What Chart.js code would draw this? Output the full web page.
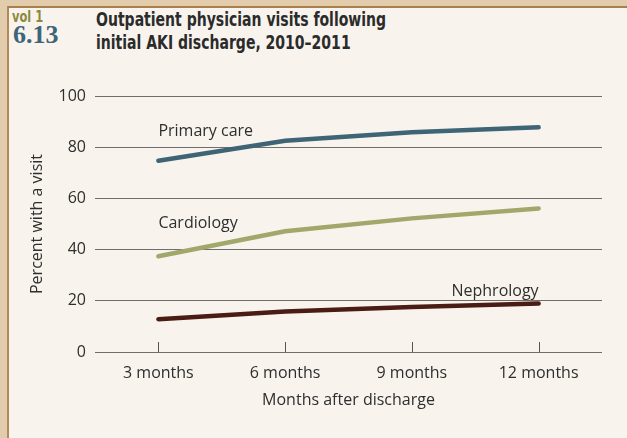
<!DOCTYPE html>
<html>
<head>
<meta charset="utf-8">
<script src="https://cdn.jsdelivr.net/npm/chart.js@4.4.1/dist/chart.umd.min.js"></script>
<style>
  html, body { margin: 0; padding: 0; }
  body { width: 627px; height: 438px; background: #e2ccac; position: relative; overflow: hidden; }
  #panel {
    position: absolute; left: 7px; top: 6px; width: 640px; height: 450px;
    background: #f8f4ed; border-left: 2px solid #b08a58; border-top: 2px solid #a8804e;
  }
  #vol { position: absolute; left: 12px; top: 8px; font: bold 15px "DejaVu Sans Condensed", sans-serif; color: #8c8a3e; transform: scaleX(0.85); transform-origin: left top; }
  #num { position: absolute; left: 13px; top: 20px; font: bold 26px "Liberation Serif", "DejaVu Serif", serif; color: #3f6478; }
  #title { position: absolute; left: 96px; top: 8px; font: bold 19px/23px "DejaVu Sans Condensed", sans-serif; color: #2b2b2b; transform: scaleX(0.82); transform-origin: left top; white-space: nowrap; }
  canvas { position: absolute; left: 0; top: 0; }
</style>
</head>
<body>
<div id="panel"></div>
<div id="vol">vol 1</div>
<div id="num">6.13</div>
<div id="title">Outpatient physician visits following<br>initial AKI discharge, 2010–2011</div>
<canvas id="c" width="627" height="438"></canvas>
<script>
// ========================
// Data
// ========================
const categories = ["3 months", "6 months", "9 months", "12 months"];
const primaryCare = [74.7, 82.5, 85.8, 87.8];
const cardiology = [37.4, 47.2, 52.2, 56.1];
const nephrology = [12.8, 15.8, 17.6, 18.9];
const yTicks = [0, 20, 40, 60, 80, 100];

// label: [text, category index, value, align]
const seriesLabels = [
  ["Primary care", 0, 84.5, "left"],
  ["Cardiology", 0, 48.5, "left"],
  ["Nephrology", 3, 22, "right"]
];

const font = "'Open Sans', 'Noto Sans', sans-serif";
const textColor = "#2e2e2e";

// tick marks on x axis + line labels
const extras = {
  id: "extras",
  afterDatasetsDraw(chart) {
    const { ctx, scales: { x, y } } = chart;
    ctx.save();
    ctx.strokeStyle = "#555";
    ctx.lineWidth = 1;
    categories.forEach((c, i) => {
      const px = Math.round(x.getPixelForValue(i)) + 0.5;
      ctx.beginPath();
      ctx.moveTo(px, y.getPixelForValue(0));
      ctx.lineTo(px, y.getPixelForValue(0) - 10);
      ctx.stroke();
    });
    ctx.fillStyle = textColor;
    ctx.font = "16px " + font;
    ctx.textBaseline = "alphabetic";
    seriesLabels.forEach(([t, i, v, a]) => {
      ctx.textAlign = a;
      ctx.fillText(t, x.getPixelForValue(i), y.getPixelForValue(v));
    });
    ctx.restore();
  }
};

const lineDs = (label, data, color) => ({
  label, data,
  borderColor: color,
  borderWidth: 4.5,
  borderCapStyle: "round",
  pointRadius: 0,
  tension: 0,
  fill: false
});

new Chart(document.getElementById("c"), {
  type: "line",
  data: {
    labels: categories,
    datasets: [
      lineDs("Primary care", primaryCare, "#3e6476"),
      lineDs("Cardiology", cardiology, "#a2a86b"),
      lineDs("Nephrology", nephrology, "#4a1c14")
    ]
  },
  options: {
    responsive: false,
    animation: false,
    layout: { padding: { top: 96, right: 25, left: 28, bottom: 24 } },
    plugins: { legend: { display: false }, tooltip: { enabled: false } },
    scales: {
      x: {
        offset: true,
        grid: { display: false },
        border: { display: false },
        ticks: { color: textColor, font: { family: font, size: 16 }, padding: 4, maxRotation: 0 },
        title: { display: true, text: "Months after discharge", color: textColor, font: { family: font, size: 16 }, padding: { top: 4, bottom: 4 } },
        afterFit(s) { s.height = 62; }
      },
      y: {
        min: 0, max: 100,
        afterBuildTicks(s) { s.ticks = yTicks.map(v => ({ value: v })); },
        grid: { color: "#6e6e6e", lineWidth: 1, drawTicks: false },
        border: { display: false },
        ticks: { color: textColor, font: { family: font, size: 16 }, padding: 9 },
        title: { display: true, text: "Percent with a visit", color: textColor, font: { family: font, size: 16 }, padding: 0 },
        afterFit(s) { s.width = 67; }
      }
    }
  },
  plugins: [extras]
});
</script>
</body>
</html>
